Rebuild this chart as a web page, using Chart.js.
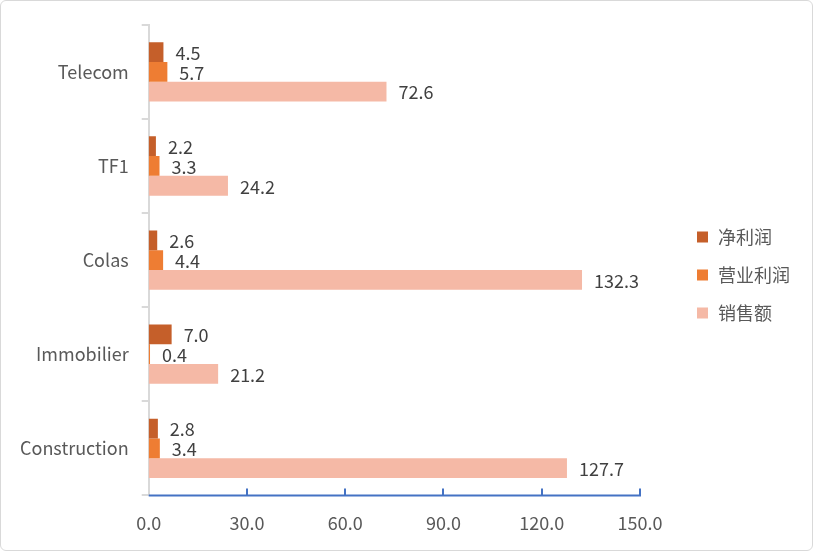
<!DOCTYPE html>
<html>
<head>
<meta charset="utf-8">
<script src="https://cdn.jsdelivr.net/npm/chart.js@4/dist/chart.umd.min.js"></script>
<style>
  html, body { margin: 0; padding: 0; background: #fff; }
  .frame {
    width: 811px; height: 549px;
    border: 1px solid #d9d9d9; border-radius: 6px;
    position: relative; overflow: hidden;
  }
</style>
</head>
<body>
<div class="frame">
  <canvas id="chart" width="811" height="549"></canvas>
</div>
<script>
// categories top to bottom
const categories = ['Telecom', 'TF1', 'Colas', 'Immobilier', 'Construction'];
const seriesNames = ['净利润', '营业利润', '销售额'];
const netProfit = [4.5, 2.2, 2.6, 7.0, 2.8];
const operatingProfit = [5.7, 3.3, 4.4, 0.4, 3.4];
const sales = [72.6, 24.2, 132.3, 21.2, 127.7];
const xTicks = [0, 30, 60, 90, 120, 150];

const colors = ['#C55F2A', '#EE7D33', '#F5B9A6'];
const FONT = '"Noto Sans CJK SC", "Noto Sans", sans-serif';

// value labels at the end of each bar
const valueLabels = {
  id: 'valueLabels',
  afterDatasetsDraw(chart) {
    const ctx = chart.ctx;
    ctx.save();
    ctx.font = '18px ' + FONT;
    ctx.fillStyle = '#404040';
    ctx.textBaseline = 'middle';
    ctx.textAlign = 'left';
    chart.data.datasets.forEach((ds, i) => {
      chart.getDatasetMeta(i).data.forEach((bar, j) => {
        ctx.fillText(ds.data[j].toFixed(1), bar.x + 12, bar.y + 1);
      });
    });
    ctx.restore();
  }
};

// blue x axis with ticks pointing up into the plot
const xAxisTicks = {
  id: 'xAxisTicks',
  afterDraw(chart) {
    const ctx = chart.ctx;
    const x = chart.scales.x;
    const area = chart.chartArea;
    ctx.save();
    ctx.strokeStyle = '#4472C4';
    ctx.lineWidth = 2;
    ctx.beginPath();
    ctx.moveTo(area.left, area.bottom);
    ctx.lineTo(area.right + 1, area.bottom);
    xTicks.slice(1).forEach(v => {
      const px = Math.round(x.getPixelForValue(v));
      ctx.moveTo(px, area.bottom);
      ctx.lineTo(px, area.bottom - 7);
    });
    ctx.stroke();
    ctx.restore();
  }
};

// legend on the right, stacked and centred on the canvas height
const sideLegend = {
  id: 'sideLegend',
  afterDraw(chart) {
    const ctx = chart.ctx;
    const mid = chart.height / 2;
    ctx.save();
    ctx.font = '18px ' + FONT;
    ctx.textBaseline = 'middle';
    chart.data.datasets.forEach((ds, i) => {
      const y = mid + (i - 1) * 38;
      ctx.fillStyle = ds.backgroundColor;
      ctx.fillRect(696, y - 6, 11, 11);
      ctx.fillStyle = '#595959';
      ctx.fillText(ds.label, 717, y);
    });
    ctx.restore();
  }
};

new Chart(document.getElementById('chart'), {
  type: 'bar',
  data: {
    labels: categories,
    datasets: [
      { label: seriesNames[0], data: netProfit, backgroundColor: colors[0] },
      { label: seriesNames[1], data: operatingProfit, backgroundColor: colors[1] },
      { label: seriesNames[2], data: sales, backgroundColor: colors[2] },
    ],
  },
  options: {
    indexAxis: 'y',
    responsive: false,
    animation: false,
    datasets: { bar: { categoryPercentage: 0.63, barPercentage: 1.0 } },
    layout: { padding: { top: 22, left: 6, right: 172, bottom: 7 } },
    plugins: {
      tooltip: { enabled: false },
      legend: { display: false },
    },
    scales: {
      x: {
        min: 0, max: 150,
        afterBuildTicks: axis => { axis.ticks = xTicks.map(v => ({ value: v })); },
        ticks: {
          color: '#595959', font: { family: FONT, size: 18 }, padding: 9,
          callback: v => v.toFixed(1),
        },
        grid: { display: false },
        border: { display: false },
      },
      y: {
        offset: true,
        ticks: { color: '#595959', font: { family: FONT, size: 18 }, padding: 13 },
        grid: { offset: true, drawOnChartArea: false, tickLength: 7, color: '#d9d9d9', lineWidth: 2 },
        border: { color: '#d9d9d9', width: 2 },
      },
    },
  },
  plugins: [valueLabels, xAxisTicks, sideLegend],
});
</script>
</body>
</html>
